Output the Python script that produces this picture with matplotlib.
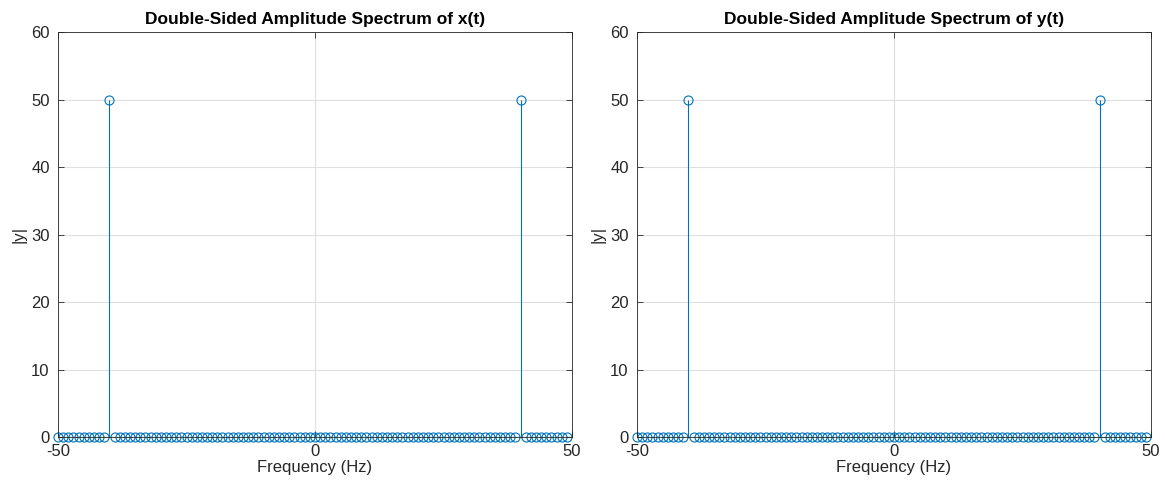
import numpy as np
import matplotlib.pyplot as plt

plt.rcParams['font.family'] = ['Liberation Sans', 'DejaVu Sans']
plt.rcParams['axes.unicode_minus'] = False

# frequency bins and spectrum magnitudes (Hz, |y|)
freqs = list(range(-50, 50))
peak_freqs = [-40, 40]
peak_vals_x = [50, 50]
peak_vals_y = [50, 50]

def spectrum(peaks, vals):
    mag = [0.0] * len(freqs)
    for f, v in zip(peaks, vals):
        mag[freqs.index(f)] = v
    return mag

amp_x = spectrum(peak_freqs, peak_vals_x)
amp_y = spectrum(peak_freqs, peak_vals_y)

blue = '#0072BD'
dark = '#262626'

fig = plt.figure(figsize=(11.65, 4.88), dpi=100)
ax1 = fig.add_axes([0.0498, 0.1045, 0.4412, 0.8299])
ax2 = fig.add_axes([0.5468, 0.1045, 0.4412, 0.8299])

for ax, amp, name in [(ax1, amp_x, 'x(t)'), (ax2, amp_y, 'y(t)')]:
    ml, sl, bl = ax.stem(freqs, amp, basefmt=' ')
    plt.setp(sl, color=blue, linewidth=0.8)
    plt.setp(ml, color=blue, markerfacecolor='none', markersize=6.5, markeredgewidth=0.8)
    ax.axhline(0, color=dark, linewidth=0.8, zorder=1)
    ax.set_xlim(-50, 50)
    ax.set_ylim(0, 60)
    ax.set_xticks([-50, 0, 50])
    ax.set_yticks(range(0, 61, 10))
    ax.grid(True, color='#dfdfdf', linewidth=0.8)
    ax.set_axisbelow(True)
    ax.tick_params(direction='in', top=True, right=True, colors=dark,
                   labelsize=12, length=4, width=0.6)
    ax.tick_params(axis='y', pad=6)
    ax.tick_params(axis='x', pad=5)
    for s in ax.spines.values():
        s.set_color(dark)
        s.set_linewidth(0.6)
    for a in (ml, sl):
        a.set_clip_on(False)
    ax.set_title('Double-Sided Amplitude Spectrum of ' + name,
                 fontsize=12.5, fontweight='bold', color='black', pad=6)
    ax.set_xlabel('Frequency (Hz)', fontsize=12, color=dark, labelpad=1)
    ax.set_ylabel('|y|', fontsize=12, color=dark, labelpad=3)

fig.savefig('out.png', dpi=100)
